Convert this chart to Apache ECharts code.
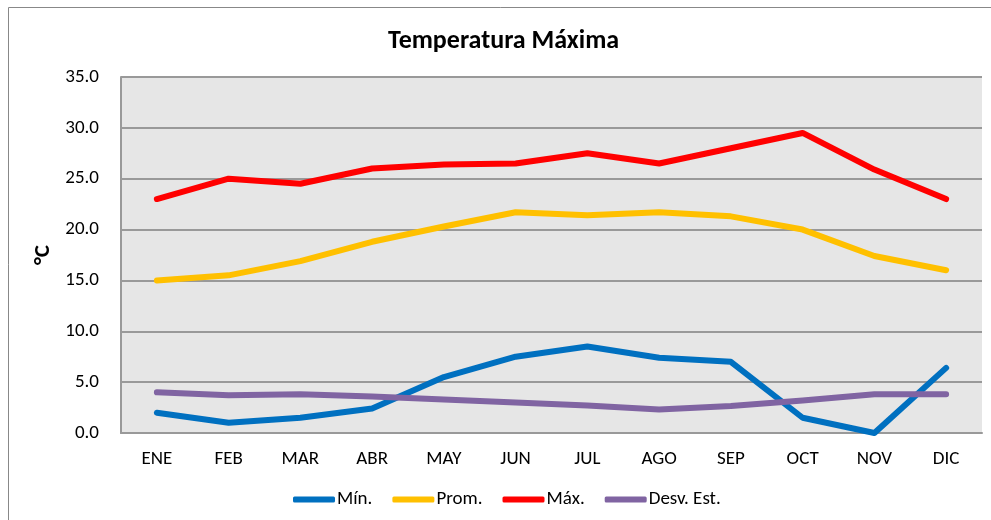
<!DOCTYPE html>
<html>
<head>
<meta charset="utf-8">
<script src="https://cdn.jsdelivr.net/npm/echarts@6/dist/echarts.min.js"></script>
<style>
  html, body { margin: 0; padding: 0; background: #fff; }
  #main { width: 991px; height: 520px; }
</style>
</head>
<body>
<div id="main"></div>
<script>
const months = ["ENE", "FEB", "MAR", "ABR", "MAY", "JUN", "JUL", "AGO", "SEP", "OCT", "NOV", "DIC"];
const minVals = [2.0, 1.0, 1.5, 2.4, 5.5, 7.5, 8.5, 7.4, 7.0, 1.5, 0.0, 6.4];
const promVals = [15.0, 15.5, 16.9, 18.8, 20.3, 21.7, 21.4, 21.7, 21.3, 20.0, 17.4, 16.0];
const maxVals = [23.0, 25.0, 24.5, 26.0, 26.4, 26.5, 27.5, 26.5, 28.0, 29.5, 25.9, 23.0];
const desvVals = [4.0, 3.7, 3.8, 3.6, 3.3, 3.0, 2.7, 2.3, 2.65, 3.2, 3.8, 3.8];

const font = "Carlito, 'Liberation Sans Narrow', 'Open Sans', sans-serif";

const chartDom = document.getElementById("main");
const myChart = echarts.init(chartDom, null, { renderer: "canvas" });

const mkSeries = (name, data, color) => ({
  name: name,
  type: "line",
  data: data,
  symbol: "none",
  smooth: false,
  lineStyle: { width: 6, color: color, cap: "round", join: "round" },
  itemStyle: { color: color },
});

const option = {
  animation: false,
  title: {
    text: "Temperatura Máxima",
    left: 383,
    top: 23,
    textStyle: { fontFamily: font, fontSize: 26, fontWeight: "bold", color: "#000" },
  },
  graphic: [
    {
      type: "rect",
      shape: { x: 8.5, y: 7.5, width: 990, height: 520 },
      style: { fill: "none", stroke: "#888", lineWidth: 1 },
      silent: true,
    },
  ],
  grid: {
    left: 121,
    right: 9,
    top: 77,
    bottom: 87,
    show: true,
    backgroundColor: "#e6e6e6",
    borderWidth: 0,
  },
  legend: {
    bottom: 6,
    left: 288,
    icon: "roundRect",
    itemWidth: 42,
    itemHeight: 6,
    itemGap: 20,
    textStyle: { fontFamily: font, fontSize: 19, color: "#000", padding: [0, 0, 0, -3] },
    data: ["Mín.", "Prom.", "Máx.", "Desv. Est."],
  },
  xAxis: {
    type: "category",
    data: months,
    boundaryGap: true,
    axisLine: { show: true, lineStyle: { color: "#999", width: 2 } },
    axisTick: { show: false },
    axisLabel: { color: "#000", fontFamily: font, fontSize: 19, margin: 17 },
  },
  yAxis: {
    type: "value",
    min: 0,
    max: 35,
    interval: 5,
    name: "°C",
    nameLocation: "middle",
    nameGap: 57,
    nameTextStyle: { fontFamily: font, fontSize: 23, fontWeight: "bold", color: "#000" },
    axisLine: { show: true, lineStyle: { color: "#999", width: 2 } },
    axisTick: { show: false },
    axisLabel: {
      color: "#000",
      fontFamily: font,
      fontSize: 19,
      margin: 22,
      formatter: (v) => v.toFixed(1),
    },
    splitLine: { show: true, lineStyle: { color: "#999", width: 2 } },
  },
  series: [
    mkSeries("Mín.", minVals, "#0070c0"),
    mkSeries("Prom.", promVals, "#ffc000"),
    mkSeries("Máx.", maxVals, "#ff0000"),
    mkSeries("Desv. Est.", desvVals, "#8064a2"),
  ],
};

myChart.setOption(option);
</script>
</body>
</html>
